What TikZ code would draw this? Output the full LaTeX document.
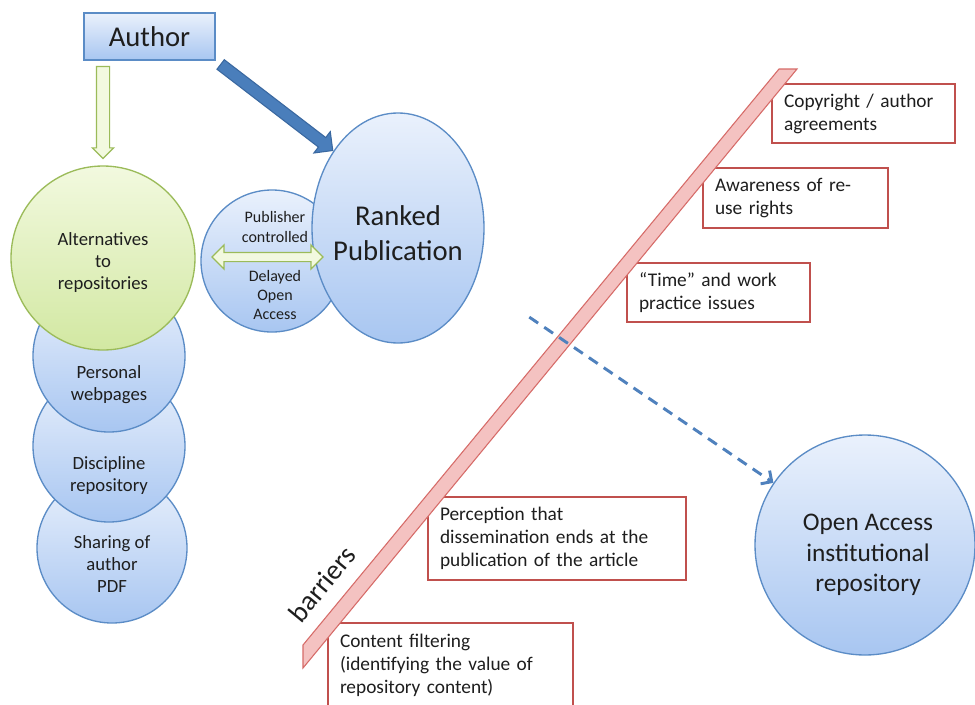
\documentclass[tikz,border=0pt]{standalone}
\usepackage{fontspec}
\setmainfont{Carlito}
\usetikzlibrary{shapes.geometric,shapes.arrows,arrows.meta,calc}

\definecolor{bubbletop}{HTML}{EAF1FC}
\definecolor{bubblebot}{HTML}{A8C6F1}
\definecolor{bubbleline}{HTML}{5B8CC6}
\definecolor{greentop}{HTML}{F2F9DF}
\definecolor{greenbot}{HTML}{D2E8A2}
\definecolor{greenline}{HTML}{9BBB59}
\definecolor{arrowblue}{HTML}{4A7EBB}
\definecolor{arrowblueline}{HTML}{3A68A0}
\definecolor{dashblue}{HTML}{4F81BD}
\definecolor{barrierred}{HTML}{C0504D}
\definecolor{bandfill}{HTML}{F4C2C1}
\definecolor{bandline}{HTML}{D66B68}
\definecolor{ink}{HTML}{1E1E1E}

\begin{document}
\begin{tikzpicture}[x=0.75pt,y=-0.75pt,
  bubble/.style={circle, draw=bubbleline, line width=1pt,
    top color=bubbletop, bottom color=bubblebot, inner sep=0pt},
  greenbubble/.style={circle, draw=greenline, line width=1pt,
    top color=greentop, bottom color=greenbot, inner sep=0pt},
  lbl/.style={align=center, text=ink, inner sep=0pt},
  barrier/.style={rectangle, draw=barrierred, line width=1.6pt, fill=white,
    align=left, inner xsep=9pt, inner ysep=0pt, text=ink,
    font=\fontsize{14.5}{17.25}\selectfont},
  greenarrow/.style={fill=greentop, draw=greenline, line width=0.9pt,
    inner xsep=0pt, minimum width=0pt}
]
% canvas
\useasboundingbox (0,0) rectangle (975,704);
\clip (0,0) rectangle (975,704);
\fill[white] (0,0) rectangle (975,704);

% author box
\node[rectangle, draw=bubbleline, line width=1pt, top color=bubbletop,
  bottom color=bubblebot, minimum width=98.25pt, minimum height=35.25pt,
  font=\fontsize{21.5}{26}\selectfont, text=ink] (author) at (149.5,36.5) {Author};

% stack of alternative outlets (bottom one first)
\node[bubble, minimum size=112.5pt] (sharing) at (112,548) {};
\node[bubble, minimum size=114pt] (discipline) at (109,446) {};
\node[bubble, minimum size=114pt] (personal) at (109,356) {};
\node[greenbubble, minimum size=138pt] (alt) at (103,258) {};

\node[lbl, font=\fontsize{14}{16.5}\selectfont] (alt-t) at (103,263) {Alternatives\\to\\repositories};
\node[lbl, font=\fontsize{14}{16.5}\selectfont] (personal-t) at (109,385) {Personal\\webpages};
\node[lbl, font=\fontsize{14}{16.5}\selectfont] (discipline-t) at (109,476) {Discipline\\repository};
\node[lbl, font=\fontsize{14}{16.5}\selectfont] (sharing-t) at (112,564) {Sharing of\\author\\PDF};

% publication routes
\node[bubble, minimum size=106.5pt] (pubctl) at (272,261) {};
\node[ellipse, draw=bubbleline, line width=1pt, top color=bubbletop,
  bottom color=bubblebot, inner sep=0pt, minimum width=129pt,
  minimum height=172.5pt] (ranked) at (398,228) {};
\node[lbl, font=\fontsize{21.5}{26}\selectfont] (ranked-t) at (398,233) {Ranked\\Publication};

\node[lbl, font=\fontsize{12}{14.5}\selectfont] (pubctl-a) at (275,227) {Publisher\\controlled};
\node[lbl, font=\fontsize{12}{14.5}\selectfont] (pubctl-b) at (275,295) {Delayed\\Open\\Access};
\node[double arrow, greenarrow, inner ysep=3pt, minimum height=83.25pt,
  double arrow head extend=5.6pt] (swap) at (267.5,257) {};

% open access repository
\node[bubble, minimum size=165pt] (oa) at (865,545) {};
\node[lbl, font=\fontsize{19}{23}\selectfont] (oa-t) at (868,555) {Open Access\\institutional\\repository};

% arrows from the author
\coordinate (gtip) at ($(alt.north)+(0,-6)$);
\path (gtip |- author.south) -- (gtip)
  node[pos=1, sloped, allow upside down, anchor=tip, single arrow, greenarrow,
    inner ysep=4.5pt, minimum height=69pt,
    single arrow head extend=3pt] (down) {};
\path (author.south east) -- (ranked.130)
  node[pos=1, sloped, anchor=tip, single arrow, fill=arrowblue,
    draw=arrowblueline, line width=0.8pt, inner xsep=0pt, inner ysep=4.1pt,
    minimum width=0pt, minimum height=106pt,
    single arrow head extend=5.6pt] (publish) {};

% barrier statements
\node[barrier, text width=119.25pt, minimum height=44.25pt] (b-copy) at (863.5,113.5) {Copyright / author\\agreements};
\node[barrier, text width=120.75pt, minimum height=45pt] (b-aware) at (795.5,198) {Awareness of re-\\use rights};
\node[barrier, text width=119.25pt, minimum height=44.25pt] (b-time) at (718.5,292.5) {“Time” and work\\practice issues};
\node[barrier, text width=175.5pt, minimum height=62.25pt] (b-perc) at (557,538.5) {Perception that\\dissemination ends at the\\publication of the article};
\node[barrier, text width=165.75pt, minimum height=63pt] (b-cont) at (450.5,665) {Content filtering\\(identifying the value of\\repository content)};

% barrier band
\filldraw[fill=bandfill, draw=bandline, line width=0.8pt]
  (779,69) -- (797,69) -- (303,668) -- (303,645) -- cycle;
\node[rotate=50.4, font=\fontsize{21}{25}\selectfont, text=ink, inner sep=0pt] (barriers-t) at (322,584) {barriers};

% deposit route
\draw[dashblue, line width=2.2pt, dash pattern=on 8pt off 5.5pt,
  shorten <=49pt, -{Straight Barb[length=6pt,width=12pt]}] (ranked) -- (oa);
\end{tikzpicture}
\end{document}
